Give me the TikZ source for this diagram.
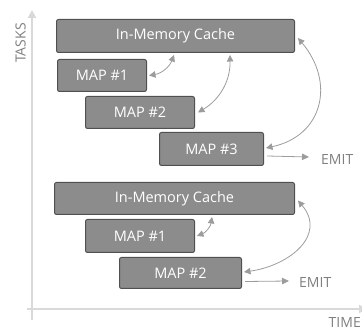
\documentclass[tikz,border=0pt]{standalone}
\usepackage{fontspec}
\setmainfont{Open Sans}
\usetikzlibrary{arrows.meta,calc}
\definecolor{boxfill}{HTML}{8C8C8C}
\definecolor{boxline}{HTML}{505050}
\definecolor{arr}{HTML}{9C9C9C}
\definecolor{axiscol}{HTML}{D9D9D9}
\definecolor{lbl}{HTML}{7F7F7F}
\begin{document}
\begin{tikzpicture}[x=1pt,y=-1pt,
  box/.style={draw=boxline, fill=boxfill, line width=1pt, rounded corners=2pt,
    text=white, font=\fontsize{14.5}{16}\selectfont, anchor=north west, inner sep=0pt},
  link/.style={draw=arr, line width=0.8pt,
    {Triangle[width=6.5pt,length=6.5pt]}-{Triangle[width=6.5pt,length=6.5pt]}},
  emitarrow/.style={draw=arr, line width=0.8pt, -{Triangle[width=6.5pt,length=7pt]}},
  axisline/.style={draw=axiscol, line width=2pt, -{Triangle[width=8pt,length=8pt]}},
  lbltext/.style={text=lbl, inner sep=0pt, font=\fontsize{14}{16}\selectfont}
]
\useasboundingbox (0,0) rectangle (362,331);

% axes
\coordinate (ybot) at (32,320);
\coordinate (ytop) at (32,10);
\coordinate (xl) at (27,309);
\coordinate (xr) at (367,309);
\draw[axisline] (ybot) -- (ytop);
\draw[axisline] (xl) -- (xr);
\node[lbltext, rotate=90] (tasks) at (20.5,43) {TASKS};
\node[lbltext, anchor=east] (time) at (361,323) {TIME};

% top group
\node[box, minimum width=238pt, minimum height=33pt] (c1) at (56,19) {In-Memory Cache};
\node[box, minimum width=89pt, minimum height=32pt] (m11) at (57,59) {MAP \#1};
\node[box, minimum width=109pt, minimum height=32pt] (m12) at (85,96) {MAP \#2};
\node[box, minimum width=104pt, minimum height=33pt] (m13) at (159,132) {MAP \#3};

\coordinate (c1a) at (174,52);
\coordinate (c1b) at (230,52);
\draw[link] ($(m11.east)+(2,0)$) to[bend right=30] ($(c1a)+(0,3)$);
\draw[link] ($(m12.east)+(3,0)$) to[bend right=30] ($(c1b)+(0,3)$);
\draw[link] ($(m13.east)+(2,-1)$) to[out=12,in=-50,looseness=1.3] ($(c1.east)+(3,2)$);

\node[lbltext, anchor=west] (emit1) at (321,160) {EMIT};
\draw[emitarrow] ($(m13.east)+(3,7)$) -- ($(emit1.west)+(-12,-3)$);

% bottom group
\node[box, minimum width=240pt, minimum height=32pt] (c2) at (54,182) {In-Memory Cache};
\node[box, minimum width=109pt, minimum height=33pt] (m21) at (85,219) {MAP \#1};
\node[box, minimum width=122pt, minimum height=31pt] (m22) at (119,257) {MAP \#2};

\coordinate (c2a) at (212,214);
\draw[link] ($(m21.east)+(2,0)$) to[bend right=30] ($(c2a)+(0,3)$);
\draw[link] ($(m22.east)+(2,-1)$) to[out=8,in=-50,looseness=1.3] ($(c2.east)+(3,2)$);

\node[lbltext, anchor=west] (emit2) at (299,283) {EMIT};
\draw[emitarrow] ($(m22.east)+(3,8.5)$) -- ($(emit2.west)+(-10,-2)$);
\end{tikzpicture}
\end{document}
